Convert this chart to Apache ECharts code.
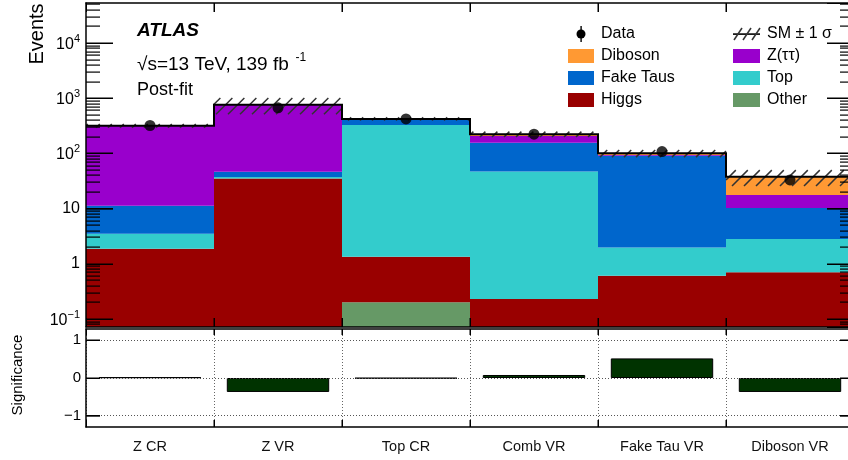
<!DOCTYPE html>
<html><head><meta charset="utf-8">
<script src="https://cdn.jsdelivr.net/npm/echarts@6/dist/echarts.min.js"></script>
<style>html,body{margin:0;padding:0;background:#fff}#c{width:848px;height:460px}</style>
</head><body><div id="c"></div>
<script>
// ---------------- data ----------------
const categories = ['Z CR', 'Z VR', 'Top CR', 'Comb VR', 'Fake Tau VR', 'Diboson VR'];
const otherBkg  = [0,    0,    0.2,  0,    0,    0];
const higgs     = [1.87, 35,   1.14, 0.23, 0.61, 0.70];
const topBkg    = [1.63, 2.5,  325,  46.8, 1.36, 2.1];
const fakeTaus  = [7.7,  9,    93,   108,  88.6, 7.4];
const ztautau   = [303,  712,  1,    51,   3,    7.4];
const diboson   = [1.5,  2,    0.5,  17,   7,    20.1];
const dataVals  = [320,  670,  420,  223,  108,  33];
const smUnc     = [25,   250,  28,   25,   15,   12];
const significance = [0.02, -0.37, -0.01, 0.08, 0.52, -0.37];
const yTicks = [0.1, 1, 10, 100, 1000, 10000];
const ratioTicks = [-1, 0, 1];

const FONT = '"Liberation Sans", Arial, Helvetica, sans-serif';
const YMIN = 0.0716, YMAX = 53000, RMIN = -1.3, RMAX = 1.3;

const comps = [
  {name: 'Other',     values: otherBkg, color: '#669966'},
  {name: 'Higgs',     values: higgs,    color: '#990000'},
  {name: 'Top',       values: topBkg,   color: '#33cccc'},
  {name: 'Fake Taus', values: fakeTaus, color: '#0066cc'},
  {name: 'Z(ττ)',     values: ztautau,  color: '#9900cc'},
  {name: 'Diboson',   values: diboson,  color: '#ff9933'}
];
const colorOf = {};
comps.forEach(c => colorOf[c.name] = c.color);

const minorVals = [];
for (let e = -2; e <= 4; e++) for (let m = 2; m <= 9; m++) {
  const v = m * Math.pow(10, e);
  if (v > YMIN && v < YMAX) minorVals.push(v);
}

// ---------------- render helpers ----------------
// ticks drawn as thin filled rectangles (1px)
function hTick(kids, x, y, len) {
  const yy = Math.round(y) - 0.5;
  kids.push({type: 'rect', shape: {x: Math.min(x, x + len), y: yy, width: Math.abs(len), height: 1.2}, style: {fill: '#000'}});
}
function vTick(kids, x, y, len) {
  const xx = Math.round(x) - 0.5;
  kids.push({type: 'rect', shape: {x: xx, y: Math.min(y, y + len), width: 1.2, height: Math.abs(len)}, style: {fill: '#000'}});
}
function stackItem(params, api) {
  const i = api.value(0), lo = api.value(1), hi = api.value(2);
  if (!(hi > lo)) return;
  const w = api.size([1, 0])[0];
  const p1 = api.coord([i, hi]);
  const p0 = api.coord([i, Math.max(lo, YMIN * 0.5)]);
  return {type: 'rect', shape: {x: p1[0] - w / 2, y: p1[1], width: w, height: p0[1] - p1[1]},
          style: {fill: api.visual('color')}};
}
function hatchItem(params, api) {
  const i = api.value(0), lo = api.value(1), hi = api.value(2);
  const w = api.size([1, 0])[0];
  const c = api.coord([i, hi]), d = api.coord([i, lo]);
  const xl = c[0] - w / 2, xr = c[0] + w / 2, yt = c[1], yb = d[1];
  const h = yb - yt, sp = 12;
  const children = [];
  for (let t = Math.floor((xl - h) / sp) * sp; t <= xr; t += sp) {
    const s0 = Math.max(0, xl - t), s1 = Math.min(h, xr - t);
    if (s1 <= s0) continue;
    children.push({type: 'line', shape: {x1: t + s0, y1: yb - s0, x2: t + s1, y2: yb - s1},
                   style: {stroke: '#333', lineWidth: 1.5}});
  }
  return {type: 'group', children};
}
let totals = [];
function outlineItem(params, api) {
  const w = api.size([1, 0])[0];
  const x0 = api.coord([0, 1])[0] - w / 2;
  const x1 = api.coord([categories.length - 1, 1])[0] + w / 2;
  const yTop = api.coord([0, YMAX])[1], yBot = api.coord([0, YMIN])[1];
  const kids = [];
  const pts = [];
  totals.forEach((t, i) => { const p = api.coord([i, t]); pts.push([p[0] - w / 2, p[1]], [p[0] + w / 2, p[1]]); });
  kids.push({type: 'polyline', shape: {points: pts}, style: {stroke: '#000', lineWidth: 2, fill: 'none'}});
  minorVals.forEach(v => { const y = api.coord([0, v])[1]; hTick(kids, x0, y, 14); hTick(kids, x1, y, -14); });
  yTicks.forEach(v => { const y = api.coord([0, v])[1]; hTick(kids, x0, y, 27); hTick(kids, x1, y, -27); });
  for (let k = 1; k < categories.length; k++) {
    const x = x0 + k * w;
    vTick(kids, x, yBot, -9);
    vTick(kids, x, yTop, 9);
  }
  return {type: 'group', children: kids};
}
function ratioFrameItem(params, api) {
  const w = api.size([1, 0])[0];
  const x0 = api.coord([0, 0])[0] - w / 2;
  const x1 = api.coord([categories.length - 1, 0])[0] + w / 2;
  const yTop = api.coord([0, RMAX])[1], yBot = api.coord([0, RMIN])[1];
  const kids = [];
  ratioTicks.forEach(v => { const y = api.coord([0, v])[1]; hTick(kids, x0, y, 14); hTick(kids, x1, y, -14); });
  for (let k = 1; k < categories.length; k++) {
    const x = x0 + k * w;
    vTick(kids, x, yBot, -7);
    vTick(kids, x, yTop, 6);
  }
  return {type: 'group', children: kids};
}

// ---------------- build series ----------------
const cum = categories.map(() => 0);
const stackSeries = comps.map(c => {
  const d = c.values.map((v, i) => { const lo = cum[i]; cum[i] += v; return [i, lo, cum[i]]; });
  return {type: 'custom', name: c.name, xAxisIndex: 0, yAxisIndex: 0, clip: true, z: 2,
          itemStyle: {color: c.color}, encode: {x: 0, y: [1, 2]}, data: d, renderItem: stackItem};
});
totals = cum.slice();

function logLabel(v) {
  const e = Math.round(Math.log10(v));
  if (Math.abs(Math.log10(v) - e) > 1e-6) return '';
  if (e === 0) return '{b|1}';
  if (e === 1) return '{b|10}';
  return '{b|10}{s|' + (e < 0 ? '\u2212' : '') + Math.abs(e) + '}';
}

const axLine = () => ({show: true, onZero: false, lineStyle: {color: '#000', width: 1.5}});
const tick = (len, extra) => Object.assign({show: true, inside: true, length: len, lineStyle: {color: '#000', width: 1}}, extra || {});

function catAxis(grid, pos, showLabel, tickLen, split) {
  return {
    type: 'category', gridIndex: grid, position: pos, data: categories, boundaryGap: true, z: 10,
    axisLine: axLine(),
    axisTick: tick(tickLen, {interval: 0}),
    axisLabel: showLabel ? {show: true, interval: 0, margin: 12, fontSize: 14.5, fontFamily: FONT, color: '#111'} : {show: false},
    splitLine: split ? {show: true, interval: 0, lineStyle: {type: [1, 2], color: '#666', width: 1}} : {show: false}
  };
}

const option = {
  animation: false,
  backgroundColor: '#fff',
  grid: [
    {left: 86, top: 3, right: -6, height: 324, outerBoundsMode: 'none'},
    {left: 86, top: 329, right: -6, height: 98, outerBoundsMode: 'none'}
  ],
  xAxis: [
    catAxis(0, 'bottom', false, 9, false),
    catAxis(0, 'top', false, 9, false),
    catAxis(1, 'bottom', true, 7, true),
    catAxis(1, 'top', false, 6, false)
  ],
  yAxis: [
    {type: 'log', logBase: 10, gridIndex: 0, position: 'left', min: YMIN, max: YMAX, splitNumber: 6, z: 10,
     axisLine: axLine(), axisTick: tick(27),
     axisLabel: {show: true, margin: 6, formatter: logLabel, showMinLabel: false, showMaxLabel: false,
       rich: {b: {fontSize: 16, fontFamily: FONT, color: '#000', verticalAlign: 'bottom'},
              s: {fontSize: 11, fontFamily: FONT, color: '#000', verticalAlign: 'bottom', padding: [0, 0, 8, 0]}}},
     splitLine: {show: false}},
    {type: 'log', logBase: 10, gridIndex: 0, position: 'right', min: YMIN, max: YMAX, splitNumber: 6, z: 10,
     axisLine: axLine(), axisTick: tick(27),
     axisLabel: {show: false}, splitLine: {show: false}},
    {type: 'value', gridIndex: 1, position: 'left', min: RMIN, max: RMAX, z: 10,
     axisLine: axLine(), axisTick: tick(14, {customValues: ratioTicks}),
     axisLabel: {show: true, margin: 5, fontSize: 15, fontFamily: FONT, color: '#000', customValues: ratioTicks,
                 formatter: v => v < 0 ? '\u2212' + (-v) : String(v)},
     splitLine: {show: false}},
    {type: 'value', gridIndex: 1, position: 'right', min: RMIN, max: RMAX, z: 10,
     axisLine: axLine(), axisTick: tick(14, {customValues: ratioTicks}),
     axisLabel: {show: false}, splitLine: {show: false}}
  ],
  series: [
    ...stackSeries,
    {type: 'custom', name: 'SM ± 1 σ', xAxisIndex: 0, yAxisIndex: 0, clip: true, z: 3,
     encode: {x: 0, y: [1, 2]},
     data: totals.map((t, i) => [i, Math.max(t - smUnc[i], YMIN), t + smUnc[i]]), renderItem: hatchItem},
    {type: 'custom', name: 'outline', xAxisIndex: 0, yAxisIndex: 0, clip: true, z: 4,
     encode: {x: 0, y: 1}, data: [[0, totals[0]]], renderItem: outlineItem},
    {type: 'scatter', name: 'Data', xAxisIndex: 0, yAxisIndex: 0, z: 6, symbol: 'circle', symbolSize: 11,
     itemStyle: {color: '#000'}, data: dataVals.map((v, i) => [i, v])},
    {type: 'bar', name: 'Significance', xAxisIndex: 2, yAxisIndex: 2, barWidth: '80%', z: 3,
     itemStyle: {color: '#003300', borderColor: '#000', borderWidth: 1},
     data: significance,
     markLine: {silent: true, symbol: 'none', label: {show: false}, animation: false,
                lineStyle: {type: [1, 2], color: '#555', width: 1},
                data: ratioTicks.map(v => ({yAxis: v}))}},
    {type: 'custom', name: 'ratioFrame', xAxisIndex: 2, yAxisIndex: 2, clip: true, z: 5,
     encode: {x: 0, y: 1}, data: [[0, 0]], renderItem: ratioFrameItem}
  ],
  graphic: []
};

// ---------------- texts & legend ----------------
const g = option.graphic;
g.push({type: 'text', x: 137, y: 31, z: 20, style: {text: 'ATLAS', font: 'italic bold 19px ' + FONT, fill: '#000', verticalAlign: 'middle'}});
g.push({type: 'text', x: 137, y: 63, z: 20, style: {
  text: '{a|\u221As=13 TeV, 139 fb}{b|  -1}', verticalAlign: 'middle',
  rich: {a: {font: '19px ' + FONT, fill: '#000', verticalAlign: 'bottom'},
         b: {font: '12px ' + FONT, fill: '#000', verticalAlign: 'bottom', padding: [0, 0, 10, 0]}}}});
g.push({type: 'text', x: 137, y: 90, z: 20, style: {text: 'Post-fit', font: '18px ' + FONT, fill: '#000', verticalAlign: 'middle'}});
g.push({type: 'text', x: 37, y: 34, rotation: Math.PI / 2, z: 20, style: {text: 'Events', font: '20px ' + FONT, fill: '#000', align: 'center', verticalAlign: 'middle'}});
g.push({type: 'text', x: 18, y: 375, rotation: Math.PI / 2, z: 20, style: {text: 'Significance', font: '15px ' + FONT, fill: '#000', align: 'center', verticalAlign: 'middle'}});

const rows = [34, 56, 78, 100];
const col1 = ['Data', 'Diboson', 'Fake Taus', 'Higgs'];
const col2 = ['SM ± 1 σ', 'Z(ττ)', 'Top', 'Other'];
function legendText(x, y, t) {
  g.push({type: 'text', x: x, y: y, z: 20, style: {text: t, font: '16px ' + FONT, fill: '#000', verticalAlign: 'middle'}});
}
col1.forEach((n, k) => {
  const y = rows[k];
  if (n === 'Data') {
    g.push({type: 'rect', z: 20, shape: {x: 580.4, y: y - 8, width: 1.4, height: 16}, style: {fill: '#000'}});
    g.push({type: 'circle', z: 20, shape: {cx: 581, cy: y, r: 4.5}, style: {fill: '#000'}});
  } else {
    g.push({type: 'rect', z: 20, shape: {x: 568, y: y - 7, width: 26, height: 14}, style: {fill: colorOf[n]}});
  }
  legendText(601, y, n);
});
col2.forEach((n, k) => {
  const y = rows[k];
  if (k === 0) {
    g.push({type: 'rect', z: 20, shape: {x: 733, y: y - 0.7, width: 27, height: 1.6}, style: {fill: '#000'}});
    for (let j = 0; j < 3; j++) {
      g.push({type: 'line', z: 20, shape: {x1: 734 + 9 * j, y1: y + 6, x2: 742 + 9 * j, y2: y - 6}, style: {stroke: '#333', lineWidth: 1.5}});
    }
  } else {
    g.push({type: 'rect', z: 20, shape: {x: 733, y: y - 7, width: 27, height: 14}, style: {fill: colorOf[n]}});
  }
  legendText(767, y, n);
});

const chart = echarts.init(document.getElementById('c'), null, {renderer: 'canvas'});
chart.setOption(option);
</script>
</body></html>
